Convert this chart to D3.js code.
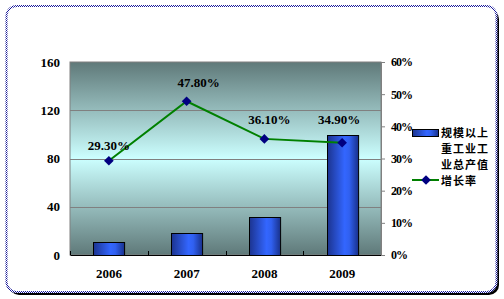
<!DOCTYPE html>
<html><head><meta charset="utf-8">
<script src="https://cdn.jsdelivr.net/npm/d3@7"></script>
<style>body{margin:0;background:#fff}svg{display:block}</style>
</head><body>
<script>
const categories = ["2006","2007","2008","2009"];
const outputValues = [10.8, 18.2, 31.5, 99.5];
const growthRates = [29.3, 47.8, 36.1, 34.9];
const growthLabels = ["29.30%","47.80%","36.10%","34.90%"];
const leftTicks = [0,40,80,120,160];
const rightTicks = [0,10,20,30,40,50,60];
const legendBarLines = ["规模以上","重工业工","业总产值"];
const legendLineLabel = "增长率";

const W=504,H=299;
const svg=d3.select("body").append("svg").attr("width",W).attr("height",H);
const defs=svg.append("defs");
const bg=defs.append("linearGradient").attr("id","bg").attr("x1",0).attr("y1",0).attr("x2",0).attr("y2",1);
[[0,"#5f7979"],[0.5,"#ccffff"],[1,"#5f7979"]].forEach(s=>bg.append("stop").attr("offset",s[0]).attr("stop-color",s[1]));
const bar=defs.append("linearGradient").attr("id","bar").attr("x1",0).attr("y1",0).attr("x2",1).attr("y2",0);
[[0,"#1c3490"],[0.55,"#3366ff"],[0.7,"#3060f0"],[1,"#18308a"]].forEach(s=>bar.append("stop").attr("offset",s[0]).attr("stop-color",s[1]));
const pat=defs.append("pattern").attr("id","dots").attr("width",2).attr("height",2).attr("patternUnits","userSpaceOnUse");
pat.append("rect").attr("width",2).attr("height",2).attr("fill","#fff");
pat.append("rect").attr("width",1).attr("height",1).attr("fill","#1a1a9a");
pat.append("rect").attr("x",1).attr("y",1).attr("width",1).attr("height",1).attr("fill","#1a1a9a");

// frame with shadow
svg.append("rect").attr("x",9).attr("y",9).attr("width",490).attr("height",286).attr("rx",10).attr("fill","#000");
svg.append("rect").attr("x",6.5).attr("y",6).attr("width",490).attr("height",286).attr("rx",10).attr("fill","#fff").attr("stroke","url(#dots)").attr("stroke-width",2);

const L=70,R=381,T=62,B=255;
const x=d3.scaleBand().domain(categories).range([L,R]).paddingInner(0.6).paddingOuter(0.3);
const xb=d3.scaleBand().domain(categories).range([L,R]);
const y=d3.scaleLinear().domain([0,160]).range([B,T]);
const y2=d3.scaleLinear().domain([0,60]).range([B,T]);

svg.append("rect").attr("x",L).attr("y",T).attr("width",R-L).attr("height",B-T).attr("fill","url(#bg)").attr("stroke","#808080");
svg.append("g").selectAll("line").data(leftTicks.slice(1,-1)).join("line")
  .attr("x1",L).attr("x2",R).attr("y1",d=>Math.round(y(d))+0.5).attr("y2",d=>Math.round(y(d))+0.5).attr("stroke","#808080");

const font="'Liberation Serif','Times New Roman',serif";
// bars
svg.append("g").selectAll("rect").data(outputValues).join("rect")
  .attr("x",(d,i)=>Math.round(x(categories[i]))+0.5).attr("width",x.bandwidth())
  .attr("y",d=>Math.round(y(d))+0.5).attr("height",d=>B-Math.round(y(d)))
  .attr("fill","url(#bar)").attr("stroke","#000");

// x axis
const gx=svg.append("g").attr("transform",`translate(0,${B})`).call(d3.axisBottom(xb).tickSize(0).tickPadding(14));
gx.attr("font-family",font);
gx.select(".domain").attr("stroke","#000").attr("stroke-width",1.2);
gx.selectAll("text").attr("font-family",font).attr("font-weight","bold").attr("font-size",13).attr("fill","#000");
svg.append("g").selectAll("line").data([L,...categories.slice(1).map(c=>xb(c))]).join("line")
  .attr("x1",d=>Math.round(d)+0.5).attr("x2",d=>Math.round(d)+0.5).attr("y1",B).attr("y2",B-4).attr("stroke","#000");

// left axis
const gy=svg.append("g").attr("transform",`translate(${L},0)`).call(d3.axisLeft(y).tickValues(leftTicks).tickSize(0).tickPadding(10));
gy.attr("font-family",font);
gy.select(".domain").remove();
gy.selectAll("text").attr("font-weight","bold").attr("font-size",13).attr("fill","#000");

// right axis
const gy2=svg.append("g").attr("transform",`translate(${R},0)`).call(d3.axisRight(y2).tickValues(rightTicks).tickSize(4).tickPadding(6).tickFormat(d=>d+"%"));
gy2.attr("font-family",font);
gy2.select(".domain").attr("stroke","#808080");
gy2.selectAll("line").attr("stroke","#808080");
gy2.selectAll("text").attr("font-weight","bold").attr("font-size",12).attr("fill","#000").attr("letter-spacing",-1);

// line
const cx=c=>xb(c)+xb.bandwidth()/2;
const line=d3.line().x((d,i)=>cx(categories[i])).y(d=>y2(d));
svg.append("path").datum(growthRates).attr("d",line).attr("fill","none").attr("stroke","#008000").attr("stroke-width",2);
const diamond=d3.symbol().type(d3.symbolDiamond2).size(60);
svg.append("g").selectAll("path").data(growthRates).join("path")
  .attr("transform",(d,i)=>`translate(${cx(categories[i])},${y2(d)})`)
  .attr("d",diamond).attr("fill","#000080");
const labelShift=[[0,-11],[12,-14],[5,-15],[-3,-19]];
svg.append("g").selectAll("text").data(growthLabels).join("text")
  .attr("x",(d,i)=>cx(categories[i])+labelShift[i][0]).attr("y",(d,i)=>y2(growthRates[i])+labelShift[i][1])
  .attr("text-anchor","middle").attr("font-family",font).attr("font-weight","bold").attr("font-size",13)
  .text(d=>d);

// legend
const lg=svg.append("g");
lg.append("rect").attr("x",412.5).attr("y",129.5).attr("width",26).attr("height",7).attr("fill","url(#bar)").attr("stroke","#000");
const cjk="'Noto Sans CJK SC',sans-serif";
legendBarLines.forEach((t,i)=>lg.append("text").attr("x",441).attr("y",137+i*16).attr("font-family",cjk).attr("font-weight","bold").attr("font-size",11).attr("letter-spacing",1).text(t));
lg.append("line").attr("x1",412).attr("x2",439).attr("y1",180).attr("y2",180).attr("stroke","#008000").attr("stroke-width",2);
lg.append("path").attr("transform","translate(426,180)").attr("d",diamond).attr("fill","#000080");
lg.append("text").attr("x",441).attr("y",185).attr("font-family",cjk).attr("font-weight","bold").attr("font-size",11).attr("letter-spacing",1).text(legendLineLabel);
</script>
</body></html>
